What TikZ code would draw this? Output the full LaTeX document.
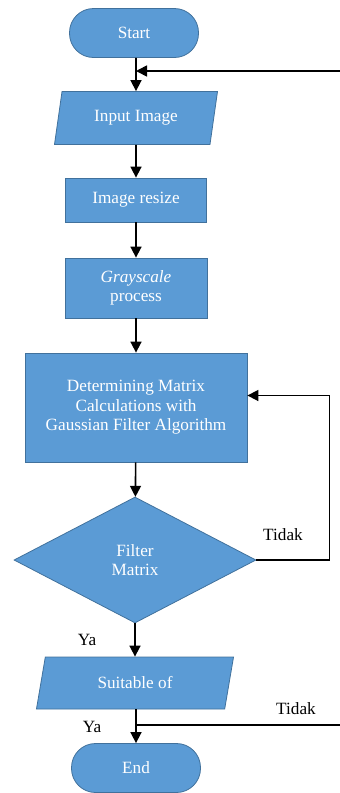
\documentclass[tikz,border=0pt]{standalone}
\usepackage{fontspec}
\setmainfont{Liberation Serif}
\usetikzlibrary{arrows.meta,positioning,shapes.geometric,calc}
\definecolor{flowfill}{RGB}{91,155,213}
\definecolor{flowline}{RGB}{65,113,156}
\begin{document}
\begin{tikzpicture}[x=1pt,y=-1pt,>={Triangle[width=11pt,length=11pt]},
  every node/.style={font=\fontsize{17.2}{19.5}\selectfont,align=center},
  flowbox/.style={draw=flowline,fill=flowfill,text=white,line width=0.8pt},
  term/.style={flowbox,rectangle,rounded corners=24pt,minimum width=129pt,minimum height=49pt},
  io/.style={flowbox,trapezium,trapezium left angle=78,trapezium right angle=102,
    trapezium stretches=true,minimum height=53pt},
  proc/.style={flowbox,rectangle},
  dec/.style={flowbox,diamond,minimum width=242pt,minimum height=126pt,inner sep=0pt},
  line/.style={line width=1.6pt}]
\useasboundingbox (0,0) rectangle (340,793);
\node[term] (start) at (134,33) {Start};
\node[io,minimum width=164pt] (input) at (136,118) {Input Image};
\node[proc,minimum width=141pt,minimum height=44pt] (resize) at (136,200) {Image resize};
\node[proc,minimum width=142pt,minimum height=60pt] (gray) at (136,288) {\textit{Grayscale}\\process};
\node[proc,minimum width=222pt,minimum height=109pt] (gauss) at (136,407.5) {Determining Matrix\\Calculations with\\Gaussian Filter Algorithm};
\node[dec] (filt) at (135,560) {Filter\\Matrix};
\node[io,minimum width=198pt,minimum height=52pt] (suit) at (135,683) {Suitable of};
\node[term] (end) at (136,768) {End};
\coordinate (back) at (340,71);
\coordinate (out) at (340,725);
\draw[line,->] (start.south -| input) -- (input.north);
\draw[line,->] (back) -- (back -| input);
\draw[line,->] (input) -- (resize);
\draw[line,->] (resize) -- (gray);
\draw[line,->] (gray) -- (gauss);
\draw[line,->] (gauss) -- (filt);
\draw[line,->] (filt.south) -- (filt.south |- suit.north);
\draw[line,->] (filt.east) -- ++(73,0) |- ([yshift=12pt]gauss.east);
\draw[line,->] (suit.south -| end) -- (end.north);
\draw[line] (out) -- (out -| end);
\node at (283,535) {Tidak};
\node at (87,640) {Ya};
\node at (92,727) {Ya};
\node at (296,709) {Tidak};
\end{tikzpicture}
\end{document}
